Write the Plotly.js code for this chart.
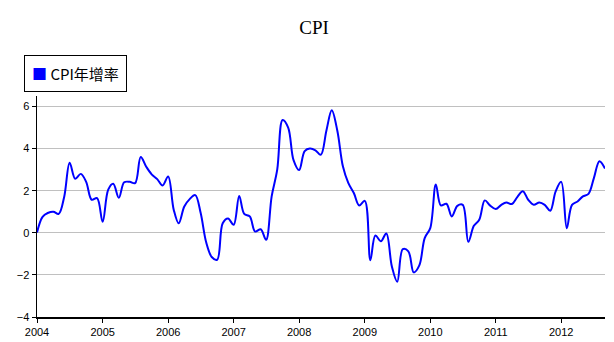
<!DOCTYPE html>
<html>
<head>
<meta charset="utf-8">
<script src="https://cdn.plot.ly/plotly-3.0.1.min.js"></script>
<style>html,body{margin:0;padding:0;background:#fff;}#chart{width:614px;height:342px;}</style>
</head>
<body>
<div id="chart"></div>
<script>
// Monthly CPI year-over-year growth (%), Jan 2004 .. Sep 2012
var startYear = 2004;
var seriesName = 'CPI年增率';
var cpi2004 = [0.02, 0.76, 0.94, 1.00, 0.90, 1.73, 3.33, 2.57, 2.80, 2.42, 1.57, 1.65];
var cpi2005 = [0.52, 2.05, 2.33, 1.66, 2.40, 2.42, 2.36, 3.60, 3.14, 2.78, 2.55, 2.25];
var cpi2006 = [2.68, 1.10, 0.45, 1.25, 1.60, 1.79, 0.95, -0.45, -1.15, -1.28, 0.45, 0.68];
var cpi2007 = [0.38, 1.75, 0.90, 0.78, 0.06, 0.17, -0.33, 1.73, 3.00, 5.36, 5.00, 3.45];
var cpi2008 = [2.98, 3.88, 4.00, 3.92, 3.71, 4.85, 5.82, 4.85, 3.16, 2.37, 1.89, 1.30];
var cpi2009 = [1.52, -1.30, -0.13, -0.40, -0.03, -1.60, -2.32, -0.78, -0.88, -1.88, -1.55, -0.25];
var cpi2010 = [0.22, 2.30, 1.30, 1.38, 0.78, 1.28, 1.33, -0.43, 0.33, 0.62, 1.54, 1.29];
var cpi2011 = [1.13, 1.33, 1.44, 1.37, 1.70, 1.98, 1.57, 1.33, 1.44, 1.33, 1.05, 1.97];
var cpi2012 = [2.42, 0.22, 1.33, 1.49, 1.73, 1.85, 2.60, 3.40, 3.05];

var cpiYoY = [].concat(cpi2004, cpi2005, cpi2006, cpi2007, cpi2008, cpi2009, cpi2010, cpi2011, cpi2012);
var months = cpiYoY.map(function (v, i) {
  var y = startYear + Math.floor(i / 12);
  var m = (i % 12) + 1;
  return y + '-' + (m < 10 ? '0' + m : m) + '-01';
});

var lineColor = '#0000ff';

var traces = [
  {
    x: months, y: cpiYoY, type: 'scatter', mode: 'lines', name: seriesName,
    line: {color: lineColor, width: 2, shape: 'spline', smoothing: 1},
    showlegend: false, hoverinfo: 'x+y'
  }
];

var layout = {
  width: 614, height: 342,
  margin: {l: 37, r: 9, t: 96, b: 25, pad: 0},
  paper_bgcolor: '#fff', plot_bgcolor: '#fff',
  font: {family: 'Liberation Sans, Arial, sans-serif', size: 11, color: '#000'},
  title: {text: 'CPI', font: {family: 'Liberation Serif, Times New Roman, serif', size: 19, color: '#000'},
          x: 314 / 614, xref: 'container', xanchor: 'center', y: 1 - 27 / 342, yref: 'container', yanchor: 'middle'},
  showlegend: false,
  annotations: [{
    xref: 'paper', yref: 'paper', x: -0.023, y: 1.184, xanchor: 'left', yanchor: 'top',
    showarrow: false, align: 'left',
    text: '<span style="color:' + lineColor + '">■</span> ' + seriesName,
    font: {family: 'Noto Sans CJK TC, sans-serif', size: 15, color: '#000'},
    bordercolor: '#000', borderwidth: 1, borderpad: 7, bgcolor: '#fff'
  }],
  xaxis: {
    type: 'date', range: ['2004-01-01', '2012-09-01'],
    dtick: 'M12', tick0: '2004-01-01', tickformat: '%Y',
    showgrid: false, zeroline: false,
    showline: true, linecolor: '#000', linewidth: 1.5,
    ticks: 'outside', ticklen: 4, tickcolor: '#000', tickwidth: 1,
    tickfont: {size: 11}
  },
  yaxis: {
    range: [-4, 6.5], dtick: 2, tick0: 0,
    showgrid: true, gridcolor: '#c0c0c0', gridwidth: 1, zeroline: false,
    showline: true, linecolor: '#000', linewidth: 1.5,
    ticks: 'outside', ticklen: 4, tickcolor: '#000', tickwidth: 1,
    tickfont: {size: 11}
  }
};

Plotly.newPlot('chart', traces, layout, {displayModeBar: false, staticPlot: true});
</script>
</body>
</html>
